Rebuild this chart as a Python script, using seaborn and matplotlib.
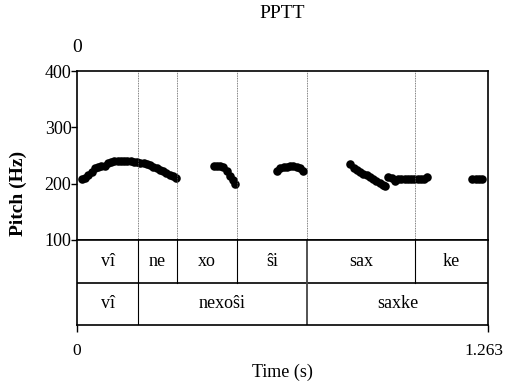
import numpy as np
import pandas as pd
import matplotlib
matplotlib.use("Agg")
import matplotlib.pyplot as plt
import matplotlib.transforms as mtransforms
import seaborn as sns

# pitch track (s, Hz)
times = [0.015, 0.025, 0.035, 0.045, 0.055, 0.065, 0.075, 0.085, 0.095, 0.105,
         0.115, 0.125, 0.135, 0.145, 0.155, 0.165, 0.175, 0.185, 0.195, 0.205,
         0.215, 0.225, 0.235, 0.245, 0.255, 0.265, 0.275, 0.285, 0.295, 0.305,
         0.420, 0.430, 0.440, 0.450, 0.460, 0.470, 0.480, 0.487,
         0.615, 0.625, 0.635, 0.645, 0.655, 0.665, 0.675, 0.685, 0.695,
         0.840, 0.850, 0.860, 0.870, 0.880, 0.890, 0.900, 0.910, 0.920, 0.930,
         0.940, 0.946,
         0.957, 0.967, 0.977, 0.987, 0.997, 1.007, 1.017, 1.027, 1.037, 1.047,
         1.057, 1.067, 1.075,
         1.215, 1.225, 1.235, 1.245]
pitch = [208, 210, 215, 221, 227, 230, 231, 232, 236, 239,
         240, 241, 241, 241, 241, 240, 239, 238, 237, 237,
         235, 233, 230, 227, 225, 222, 219, 216, 213, 210,
         231, 231, 231, 229, 222, 214, 207, 200,
         223, 227, 229, 230, 231, 231, 230, 228, 223,
         235, 227, 224, 221, 218, 215, 212, 208, 205, 202,
         198, 195,
         212, 210, 205, 208, 209, 209, 209, 209, 209, 209,
         209, 209, 212,
         209, 209, 209, 209]

# text grid tiers
syll_bounds = [0.0, 0.1875, 0.307, 0.492, 0.707, 1.039, 1.263]
syll_labels = ["vî", "ne", "xo", "ŝi", "sax", "ke"]
word_bounds = [0.0, 0.1875, 0.707, 1.263]
word_labels = ["vî", "nexoŝi", "saxke"]
t_end = 1.263

df = pd.DataFrame({"time": times, "pitch": pitch})

plt.rcParams["font.family"] = ["Liberation Serif", "DejaVu Serif"]
fs = 13

fig = plt.figure(figsize=(5.06, 3.81), dpi=100)
W, H = 506, 381
left, right = 77 / W, 488 / W
ax = fig.add_axes([left, (H - 240) / H, right - left, 169 / H])
axt = fig.add_axes([left, (H - 325) / H, right - left, 85 / H])

sns.scatterplot(data=df, x="time", y="pitch", ax=ax, color="black",
                s=38, linewidth=0, legend=False)
ax.set_xlim(0, t_end)
ax.set_ylim(100, 400)
ax.set_xticks([])
ax.set_yticks([100, 200, 300, 400])
ax.tick_params(axis="y", direction="out", length=4, width=1, labelsize=13, pad=0)
ax.set_xlabel("")
ax.set_ylabel("")
for b in syll_bounds[1:-1]:
    ax.axvline(b, color="#555555", lw=0.6, ls=(0, (1, 1)))
for s in ax.spines.values():
    s.set_linewidth(1.2)

axt.set_xlim(0, t_end)
axt.set_ylim(0, 2)
axt.set_yticks([])
axt.set_xticks([0, t_end])
axt.set_xticklabels(["0", "1.263"])
axt.tick_params(axis="x", direction="out", length=5, width=1, labelsize=12.5, pad=8)
shift = mtransforms.ScaledTranslation(-4 / 100, 0, fig.dpi_scale_trans)
last = axt.get_xticklabels()[-1]
last.set_transform(last.get_transform() + shift)
axt.axhline(1, color="black", lw=1.2)
for s in axt.spines.values():
    s.set_linewidth(1.2)
for b in syll_bounds[1:-1]:
    axt.plot([b, b], [1, 2], color="#444444" if b == 0.707 else "black", lw=1.3 if b == 0.707 else 0.8)
for b in word_bounds[1:-1]:
    axt.plot([b, b], [0, 1], color="#444444" if b == 0.707 else "black", lw=1.3 if b == 0.707 else 0.8)
for i, lab in enumerate(syll_labels):
    axt.text((syll_bounds[i] + syll_bounds[i + 1]) / 2, 1.5, lab, ha="center", va="center", fontsize=fs)
for i, lab in enumerate(word_labels):
    axt.text((word_bounds[i] + word_bounds[i + 1]) / 2, 0.5, lab, ha="center", va="center", fontsize=fs)

fig.text((left + right) / 2, 1 - 14 / H, "PPTT", ha="center", va="center", fontsize=14)
fig.text(left, 1 - 47 / H, "0", ha="center", va="center", fontsize=14)
fig.text((left + right) / 2, 1 - 372 / H, "Time (s)", ha="center", va="center", fontsize=fs)
fig.text(18 / W, 1 - 193 / H, "Pitch (Hz)", ha="center", va="center", fontsize=14,
         rotation=90, fontweight="bold")

fig.savefig("out.png", dpi=100)
